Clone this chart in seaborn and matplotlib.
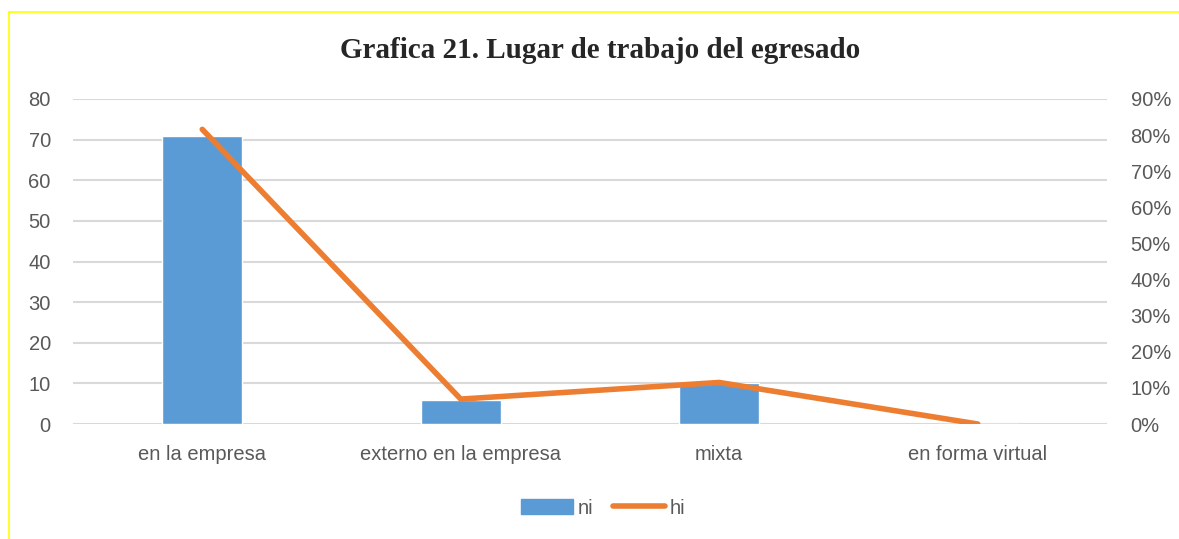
import numpy as np
import pandas as pd
import matplotlib.pyplot as plt
import seaborn as sns
from matplotlib.lines import Line2D
from matplotlib.patches import Patch
from matplotlib.ticker import PercentFormatter

categories = ["en la empresa", "externo en la empresa", "mixta", "en forma virtual"]
ni = [71, 6, 10, 0]
hi = [0.816, 0.069, 0.115, 0.0]

title = "Grafica 21. Lugar de trabajo del egresado"
bar_color = "#5b9bd5"
line_color = "#ed7d31"
text_color = "#595959"

sns.set_style("white")
plt.rcParams['font.family'] = ['Liberation Sans', 'DejaVu Sans']

df = pd.DataFrame({"lugar": categories, "ni": ni, "hi": hi, "pos": np.arange(len(categories))})

fig = plt.figure(figsize=(11.79, 5.39), dpi=100)
ax = fig.add_axes([73 / 1179, 115 / 539, 1034 / 1179, 325 / 539])

sns.barplot(data=df, x="lugar", y="ni", color=bar_color, width=0.31, saturation=1, ax=ax)
ax.set_ylim(0, 80)
ax.set_yticks(range(0, 81, 10))
ax.set_xlim(-0.5, len(categories) - 0.5)
ax.grid(axis="y", color="#d9d9d9", lw=1.5)
ax.set_axisbelow(True)
ax.set_xlabel("")
ax.set_ylabel("")
ax.tick_params(colors=text_color, labelsize=14.5, length=0)
ax.tick_params(axis="x", pad=15)
ax.tick_params(axis="y", pad=16)

ax2 = ax.twinx()
sns.lineplot(data=df, x="pos", y="hi", color=line_color, lw=4, ax=ax2,
             solid_capstyle="round")
ax2.set_ylim(0, 0.9)
ax2.set_yticks(np.arange(0, 0.91, 0.1))
ax2.yaxis.set_major_formatter(PercentFormatter(1.0, decimals=0))
ax2.set_xlim(-0.5, len(categories) - 0.5)
ax2.set_ylabel("")
ax2.tick_params(colors=text_color, labelsize=14.5, length=0, pad=17)

for a in (ax, ax2):
    for s in a.spines.values():
        s.set_visible(False)

fig.text(600 / 1179, 1 - 50 / 539, title, ha="center", va="center",
         fontsize=21, fontweight="bold", family=["Liberation Serif", "DejaVu Serif"])

handles = [Patch(color=bar_color, label="ni"),
           Line2D([], [], color=line_color, lw=4, solid_capstyle="round", label="hi")]
fig.legend(handles=handles, loc="center", bbox_to_anchor=(603 / 1179, 1 - 508 / 539), ncol=2,
           frameon=False, fontsize=14.5, labelcolor=text_color, handlelength=2.6,
           handleheight=0.8, handletextpad=0.2, columnspacing=1.0)

# yellow frame of the chart area
fig.add_artist(Line2D([9 / 1179, 9 / 1179], [0, 1 - 12 / 539], color="#ffff00", lw=1.2))
fig.add_artist(Line2D([9 / 1179, 1], [1 - 12 / 539, 1 - 12 / 539], color="#ffff00", lw=1.2))

fig.savefig("out.png", dpi=100)
